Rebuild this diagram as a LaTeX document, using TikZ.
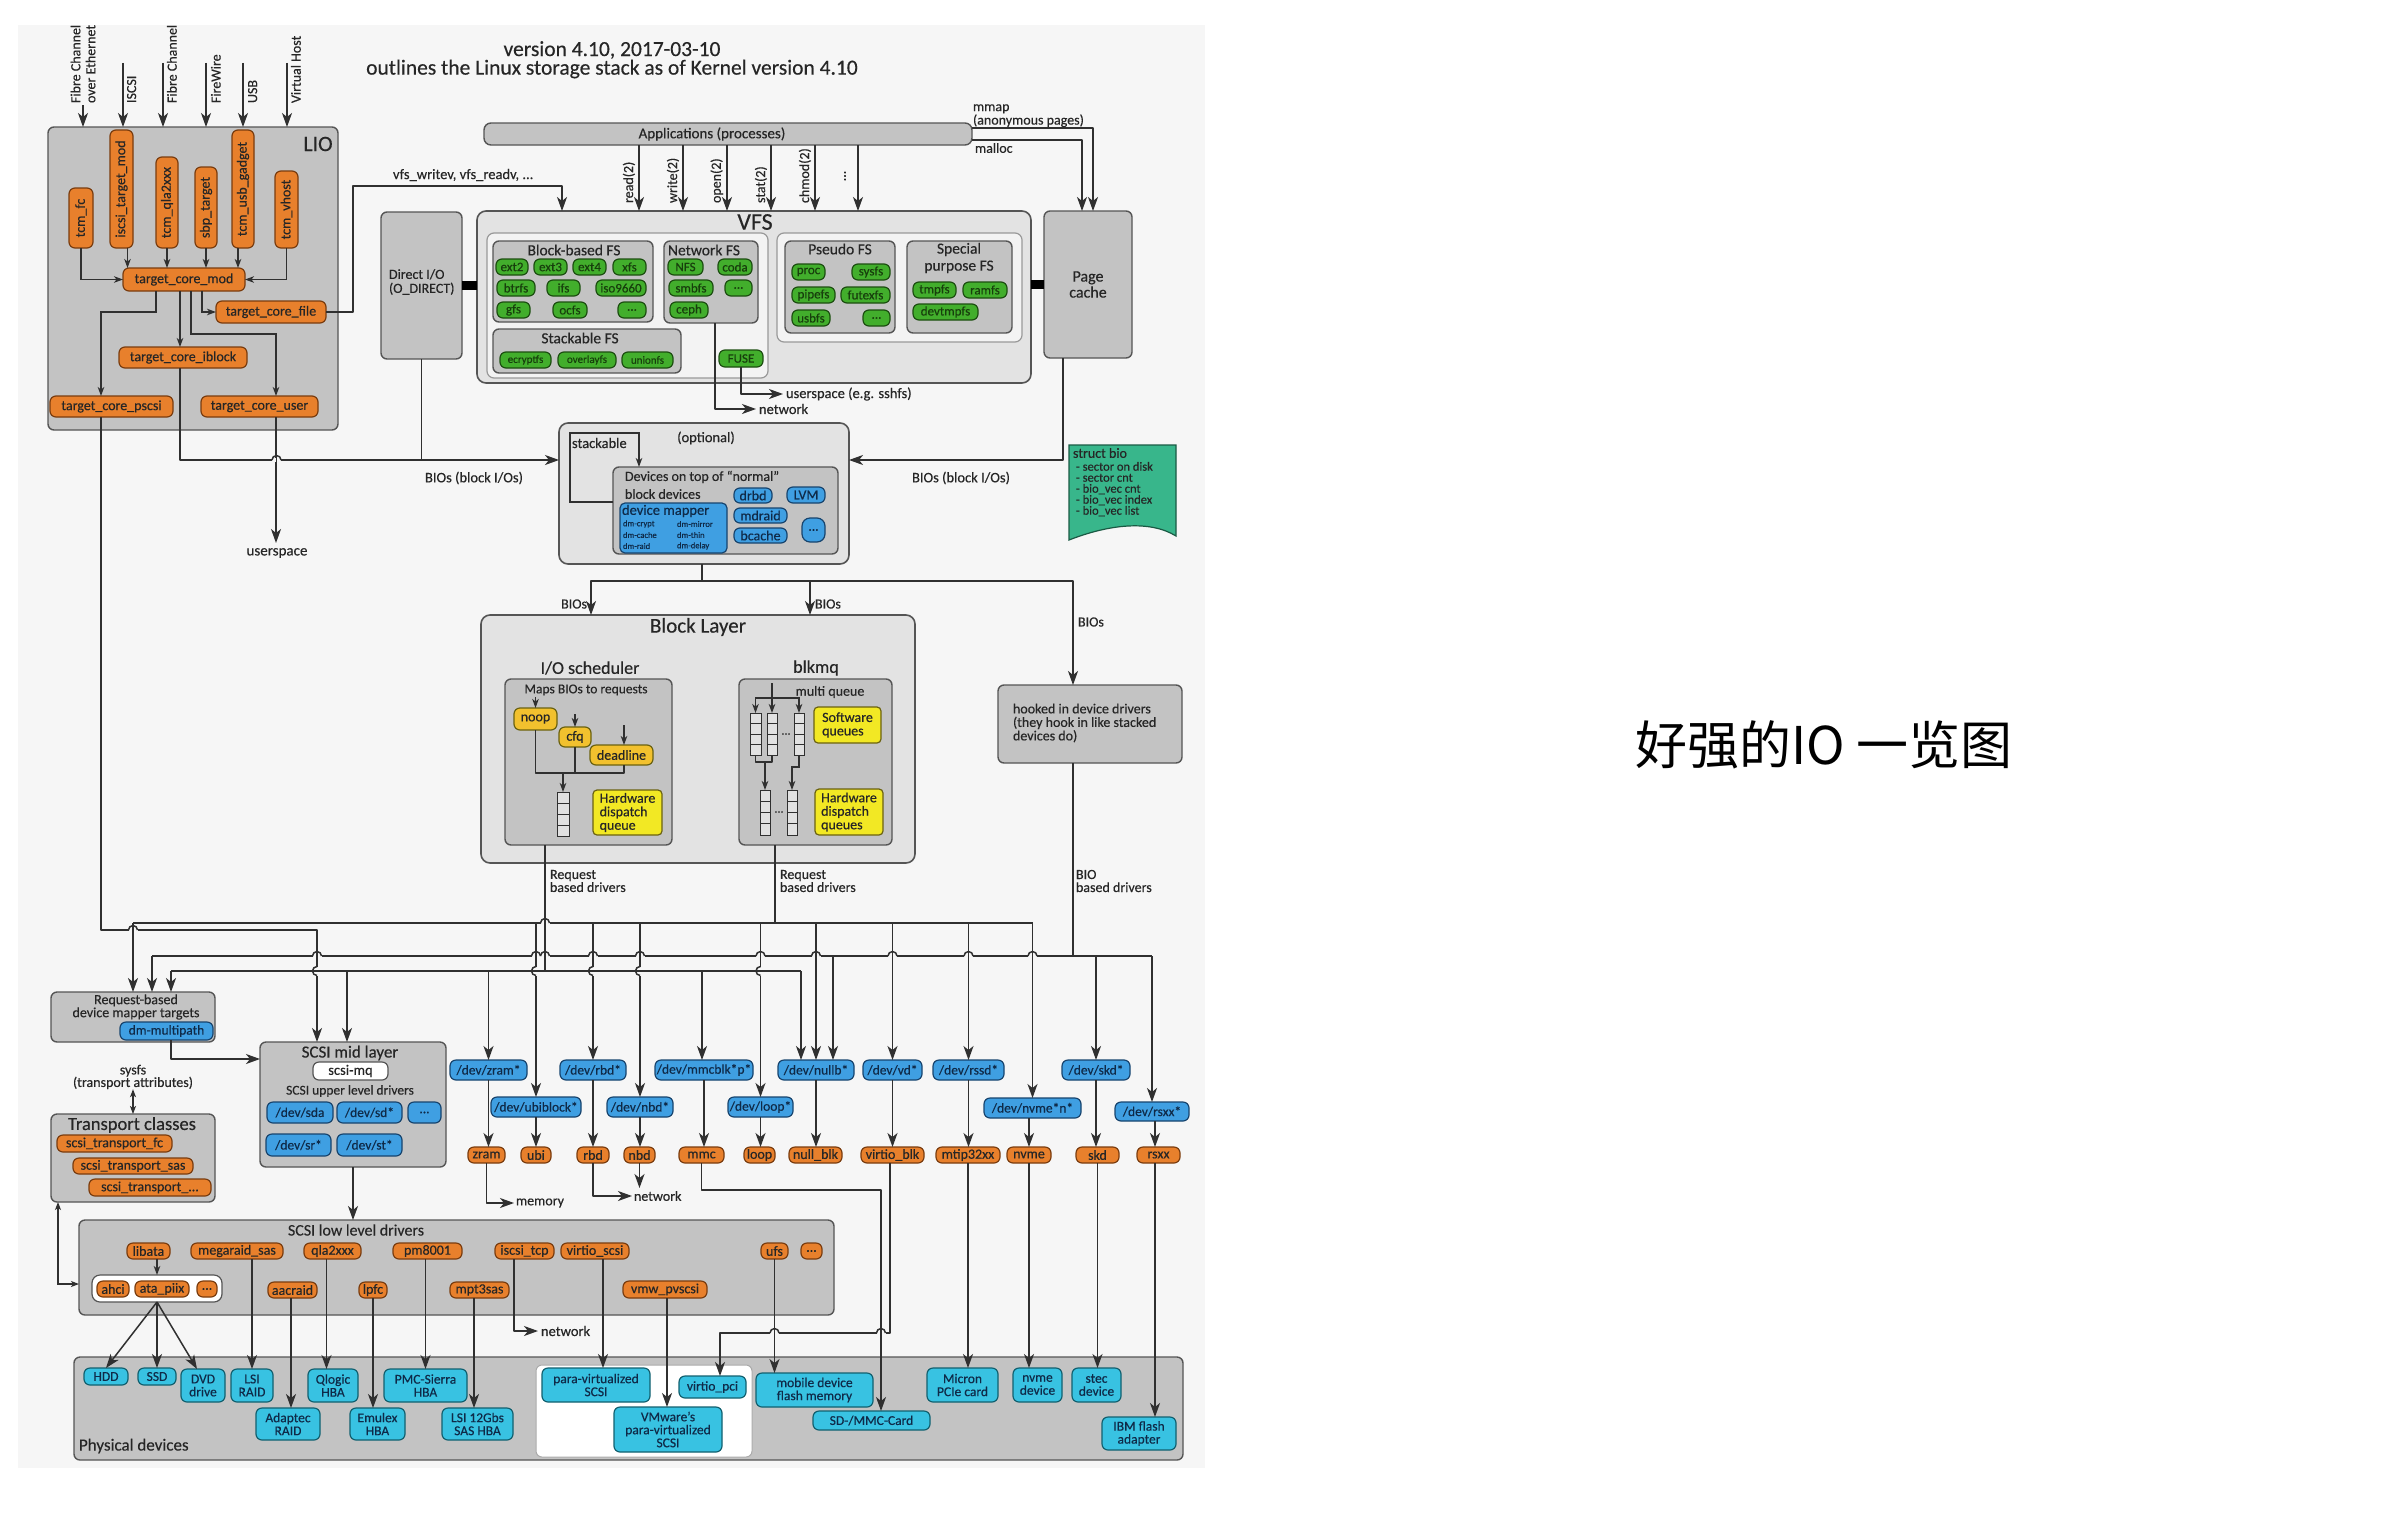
\documentclass[tikz,border=0pt]{standalone}
\usepackage{fontspec}
\setmainfont{Carlito}[FakeBold=0.35]
\newfontfamily\cjkfont{Noto Sans CJK SC}
\usetikzlibrary{arrows.meta,calc}

\definecolor{pagebg}{HTML}{F6F6F6}
\definecolor{lgray}{HTML}{E3E3E3}
\definecolor{mgray}{HTML}{C3C3C3}
\definecolor{wpanel}{HTML}{F3F3F3}
\definecolor{bord}{HTML}{555555}
\definecolor{lnc}{HTML}{303030}
\definecolor{txt}{HTML}{262626}
\definecolor{orangef}{HTML}{E8802C}
\definecolor{oranged}{HTML}{7A3C0E}
\definecolor{greenf}{HTML}{42AE2C}
\definecolor{greend}{HTML}{1C4E10}
\definecolor{greent}{HTML}{173F0C}
\definecolor{bluef}{HTML}{3F9FE2}
\definecolor{blued}{HTML}{17446E}
\definecolor{bluet}{HTML}{0F2A48}
\definecolor{cyanf}{HTML}{38C2E2}
\definecolor{cyand}{HTML}{11606F}
\definecolor{yelf}{HTML}{F2E824}
\definecolor{yeld}{HTML}{6B6210}
\definecolor{ambf}{HTML}{F2C12E}
\definecolor{biof}{HTML}{38B68B}
\definecolor{biod}{HTML}{1A5A44}

\newcommand\fz[1]{\fontsize{#1}{#1}\selectfont}
\newcommand\fzz[2]{\fontsize{#1}{#2}\selectfont}
% box given by two corners (pixel grid, y downwards)
\newcommand\bx[7]{\node[#1, minimum width={#5-#3}, minimum height={#6-#4}] (#2) at ({(#3+#5)/2},{(#4+#6)/2}) {#7};}
% queue drawn as a stack of four cells
\newcommand\qstack[5]{%
  \bx{qbox}{#1}{#2}{#3}{#4}{#5}{}
  \foreach \k in {1,2,3}{\draw[qline] ($(#1.north west)!\k/4!(#1.south west)$) -- ($(#1.north east)!\k/4!(#1.south east)$);}}
% bridge of a horizontal line over a vertical one
\newcommand\hop[2]{%
  \fill[pagebg] ({#1-4.5},{#2-2}) rectangle ({#1+4.5},{#2+2});
  \draw[ln] (#1,{#2-2.5}) -- (#1,{#2+2.5});
  \draw[ln, line cap=butt] ({#1-4.5},#2) arc[start angle=180, end angle=360, radius=4.5];}
% bridge of a vertical line around a horizontal one
\newcommand\vhop[2]{%
  \fill[pagebg] ({#1-2},{#2-4.5}) rectangle ({#1+2},{#2+4.5});
  \draw[ln] ({#1-2.5},#2) -- ({#1+2.5},#2);
  \draw[ln, line cap=butt] (#1,{#2-4.5}) arc[start angle=270, end angle=90, radius=4.5];}

\tikzset{
  every node/.style={inner sep=0pt, outer sep=0pt, text=txt},
  ln/.style={draw=lnc, line width=1.5pt, line join=round},
  arr/.style={ln, -{Stealth[length=14pt,width=10pt,inset=4pt]}},
  sarr/.style={draw=lnc, line width=1.2pt, -{Stealth[length=9pt,width=6.5pt,inset=2.5pt]}},
  tarr/.style={draw=lnc, line width=1.1pt, {Stealth[length=8pt,width=6pt,inset=2pt]}-{Stealth[length=8pt,width=6pt,inset=2pt]}},
  bar/.style={draw=black, line width=9pt},
  panel/.style={draw=bord, line width=1.6pt, fill=lgray, rounded corners=9pt},
  gbox/.style={draw=bord, line width=1.4pt, fill=mgray, rounded corners=6pt, align=center},
  wbox/.style={draw=bord!60, line width=1.2pt, fill=wpanel, rounded corners=7pt},
  pill/.style={line width=1.2pt, rounded corners=6pt, align=center, font=\fz{13.5}},
  opill/.style={pill, draw=oranged, fill=orangef, text=black!85, font=\fz{14}},
  gpill/.style={pill, draw=greend, fill=greenf, text=greent, font=\fz{13}},
  bpill/.style={pill, draw=blued, fill=bluef, text=bluet},
  cpill/.style={pill, draw=cyand, fill=cyanf, text=bluet, font=\fzz{13.5}{13}},
  ypill/.style={pill, draw=yeld, fill=yelf, rounded corners=4pt, align=left, font=\fzz{14}{13.5}},
  apill/.style={pill, draw=yeld, fill=ambf, font=\fz{14}},
  qbox/.style={draw=lnc, line width=1pt, fill=mgray!50},
  qline/.style={draw=lnc, line width=1pt},
  rot/.style={rotate=90, font=\fz{14}},
}

\begin{document}
\begin{tikzpicture}[x=1pt,y=-1pt]
\useasboundingbox (0,0) rectangle (2400,1528);
\fill[white] (0,0) rectangle (2400,1528);
\fill[pagebg] (18,25) rectangle (1205,1468);

\begin{scope}
\clip (18,25) rectangle (1205,1468);

% ---------------- heading
\node[font=\fz{21.5}] (ttl1) at (612,50) {version 4.10, 2017-03-10};
\node[font=\fz{21.5}] (ttl2) at (612,69) {outlines the Linux storage stack as of Kernel version 4.10};

% ---------------- LIO target
\bx{gbox}{lio}{48}{127}{338}{430}{}
\node[font=\fz{22}] (liot) at (318,144) {LIO};

\bx{opill}{tcmfc}{69}{188}{93}{248}{}
\bx{opill}{iscsitm}{110}{130}{133}{248}{}
\bx{opill}{tcmqla}{156}{157}{178}{248}{}
\bx{opill}{sbpt}{195}{167}{217}{248}{}
\bx{opill}{usbg}{232}{130}{254}{248}{}
\bx{opill}{vhost}{275}{171}{298}{248}{}
\node[rot] (tcmfcT) at (tcmfc.center) {tcm\_fc};
\node[rot] (iscsitmT) at (iscsitm.center) {iscsi\_target\_mod};
\node[rot] (tcmqlaT) at (tcmqla.center) {tcm\_qla2xxx};
\node[rot] (sbptT) at (sbpt.center) {sbp\_target};
\node[rot] (usbgT) at (usbg.center) {tcm\_usb\_gadget};
\node[rot] (vhostT) at (vhost.center) {tcm\_vhost};

\bx{opill}{tcm}{123}{268}{245}{291}{target\_core\_mod}
\bx{opill}{tcf}{216}{301}{326}{323}{target\_core\_file}
\bx{opill}{tci}{119}{347}{247}{368}{target\_core\_iblock}
\bx{opill}{tcp}{50}{396}{173}{417}{target\_core\_pscsi}
\bx{opill}{tcu}{201}{396}{318}{417}{target\_core\_user}

% fabric inputs
\coordinate (in1) at (83,105);
\coordinate (in2) at (123,63);
\coordinate (in3) at (163,63);
\coordinate (in4) at (206,63);
\coordinate (in5) at (243,63);
\coordinate (in6) at (287,63);
\foreach \c in {in1,in2,in3,in4,in5,in6}{\draw[arr] (\c) -- (\c |- lio.north);}
\node[rotate=90, anchor=west, align=left, font=\fzz{14}{15}] (lab1) at (83,103) {Fibre Channel\\over Ethernet};
\node[rot, anchor=north west] (lab2) at (127,103) {ISCSI};
\node[rot, anchor=north west] (lab3) at (167,103) {Fibre Channel};
\node[rot, anchor=north west] (lab4) at (211,103) {FireWire};
\node[rot, anchor=north west] (lab5) at (248,103) {USB};
\node[rot, anchor=north west] (lab6) at (291,103) {Virtual Host};

\draw[sarr] (tcmfc.south) |- (tcm.west);
\draw[sarr] ($(iscsitm.south)+(6,0)$) -- ($(iscsitm.south |- tcm.north)+(6,0)$);
\draw[sarr] (tcmqla.south) -- (tcmqla.south |- tcm.north);
\draw[sarr] (sbpt.south) -- (sbpt.south |- tcm.north);
\draw[sarr] ($(usbg.south)+(-5,0)$) -- ($(usbg.south |- tcm.north)+(-5,0)$);
\draw[sarr] (vhost.south) |- (tcm.east);
\draw[sarr] ($(tcm.south)+(-28,0)$) |- ($(tcp.north |- tcf.west)+(-10.5,0)$) -- ($(tcp.north)+(-10.5,0)$);
\draw[sarr] ($(tci.north |- tcm.south)+(-3,0)$) -- ($(tci.north)+(-3,0)$);
\draw[sarr] ($(tcm.south)+(7,0)$) -- ++(0,43) -| ($(tcu.north)+(16.5,0)$);
\draw[sarr] ($(tcm.south)+(18,0)$) |- (tcf.west);

% ---------------- applications, VFS, page cache
\bx{gbox, rounded corners=7pt}{app}{484}{123}{972}{145}{}
\node[font=\fz{15}] (appT) at (712,134) {Applications (processes)};

\bx{gbox, font=\fzz{16}{16}}{pc}{1044}{211}{1132}{358}{Page\\cache}
\bx{gbox}{dio}{381}{212}{462}{359}{}
\node[anchor=west, align=left, font=\fzz{14}{14}] (dioT) at (389,282) {Direct I/O\\(O\_DIRECT)};

\bx{panel}{vfs}{477}{211}{1031}{383}{}
\node[font=\fz{24}] (vfsT) at (755,222) {VFS};
\bx{wbox}{vfsl}{487}{233}{768}{378}{}
\bx{wbox}{vfsr}{777}{233}{1022}{342}{}

\bx{gbox}{bbfs}{493}{241}{653}{322}{}
\node[font=\fz{15.5}] (bbfsT) at (574,250) {Block-based FS};
\bx{gpill}{fext2}{496}{259}{528}{275}{ext2}
\bx{gpill}{fext3}{534}{259}{567}{275}{ext3}
\bx{gpill}{fext4}{573}{259}{606}{275}{ext4}
\bx{gpill}{fxfs}{613}{259}{646}{275}{xfs}
\bx{gpill}{fbtrfs}{497}{280}{535}{296}{btrfs}
\bx{gpill}{fifs}{547}{280}{580}{296}{ifs}
\bx{gpill}{fiso}{596}{280}{646}{296}{iso9660}
\bx{gpill}{fgfs}{497}{302}{530}{318}{gfs}
\bx{gpill}{focfs}{553}{302}{587}{318}{ocfs}
\bx{gpill}{fbdots}{618}{302}{646}{318}{...}

\bx{gbox}{netfs}{664}{241}{758}{323}{}
\node[anchor=west, font=\fz{15.5}] (netfsT) at (668,250) {Network FS};
\bx{gpill}{fnfs}{668}{259}{703}{275}{NFS}
\bx{gpill}{fcoda}{718}{259}{752}{275}{coda}
\bx{gpill}{fsmb}{669}{280}{713}{296}{smbfs}
\bx{gpill}{fndots}{725}{280}{752}{296}{...}
\bx{gpill}{fceph}{670}{302}{708}{318}{ceph}

\bx{gbox}{stkfs}{493}{329}{681}{373}{}
\node[font=\fz{15.5}] (stkfsT) at (580,338) {Stackable FS};
\bx{gpill, font=\fz{11}}{fecr}{500}{352}{551}{368}{ecryptfs}
\bx{gpill, font=\fz{11}}{fovl}{558}{352}{616}{368}{overlayfs}
\bx{gpill, font=\fz{11}}{funi}{622}{352}{673}{368}{unionfs}
\bx{gpill}{ffuse}{719}{350}{763}{367}{FUSE}

\bx{gbox}{psfs}{785}{241}{895}{333}{}
\node[font=\fz{15.5}] (psfsT) at (840,249) {Pseudo FS};
\bx{gpill}{fproc}{792}{264}{825}{280}{proc}
\bx{gpill}{fsys}{852}{264}{890}{280}{sysfs}
\bx{gpill}{fpipe}{792}{287}{835}{303}{pipefs}
\bx{gpill}{ffutex}{841}{287}{890}{303}{futexfs}
\bx{gpill}{fusb}{792}{310}{830}{326}{usbfs}
\bx{gpill}{fpdots}{863}{310}{890}{326}{...}

\bx{gbox}{spfs}{907}{241}{1012}{333}{}
\node[font=\fzz{15.5}{17}, align=center] (spfsT) at (959,258) {Special\\purpose FS};
\bx{gpill}{ftmp}{913}{282}{956}{298}{tmpfs}
\bx{gpill}{fram}{963}{282}{1007}{298}{ramfs}
\bx{gpill}{fdevt}{913}{304}{978}{320}{devtmpfs}

\draw[bar] (dio.east) -- (dio.east -| vfs.west);
\draw[bar] (pc.west) -- (pc.west -| vfs.east);

% system calls
\draw[arr] ($(app.south west)+(155,0)$) -- ++(0,66);
\draw[arr] ($(app.south west)+(199,0)$) -- ++(0,66);
\draw[arr] ($(app.south west)+(243,0)$) -- ++(0,66);
\draw[arr] ($(app.south west)+(287,0)$) -- ++(0,66);
\draw[arr] ($(app.south west)+(331,0)$) -- ++(0,66);
\draw[arr] ($(app.south west)+(374,0)$) -- ++(0,66);
\node[rot, anchor=south west] (sc1) at (635,203) {read(2)};
\node[rot, anchor=south west] (sc2) at (679,203) {write(2)};
\node[rot, anchor=south west] (sc3) at (723,203) {open(2)};
\node[rot, anchor=south west] (sc4) at (767,203) {stat(2)};
\node[rot, anchor=south west] (sc5) at (811,203) {chmod(2)};
\node[rot] (sc6) at (845,176) {...};

% mmap / malloc
\draw[arr] ($(app.east)+(0,-6)$) -| ($(pc.north)+(5,0)$);
\draw[arr] ($(app.east)+(0,6)$) -| ($(pc.north)+(-6,0)$);
\node[anchor=south west, align=left, font=\fzz{14}{11}] (mmapT) at (973,127) {mmap\\(anonymous pages)};
\node[anchor=west, font=\fz{14}] (mallocT) at (975,148) {malloc};

% vfs_writev from target_core_file
\draw[arr] (tcf.east) -- ++(27,0) |- ($(vfs.north)+(-192,-25)$) -- ($(vfs.north)+(-192,0)$);
\node[anchor=west, font=\fz{14.5}] (vfswT) at (393,175) {vfs\_writev, vfs\_readv, ...};

% network fs / fuse outputs
\node[anchor=west, font=\fz{14.5}] (netT1) at (759,409) {network};
\node[anchor=west, font=\fz{14.5}] (uspT1) at (786,394) {userspace (e.g. sshfs)};
\draw[arr] ($(netfs.south)+(4,0)$) |- ($(netT1.west)+(-3,0)$);
\draw[arr] (ffuse.south) |- ($(uspT1.west)+(-3,0)$);

% ---------------- stacked block devices
\bx{panel}{opt}{559}{423}{849}{564}{}
\node[font=\fz{14.5}] (optT) at (706,438) {(optional)};
\bx{gbox}{devs}{613}{467}{838}{554}{}
\node[anchor=west, font=\fz{14.5}] (stkT) at (572,443) {stackable};
\draw[sarr] ($(devs.west)+(0,-8.5)$) -| ($(devs.north west)+(-43,-34)$) -| ($(devs.north west)+(26,0)$);
\node[anchor=west, font=\fz{14}] (devsT1) at (625,477) {Devices on top of ``normal''};
\node[anchor=west, font=\fz{14}] (devsT2) at (625,494) {block devices};
\bx{bpill, rounded corners=5pt}{dm}{620}{503}{727}{553}{}
\node[anchor=west, font=\fz{14.5}, text=bluet] (dmT) at (622,511) {device mapper};
\node[anchor=west, font=\fz{8.5}, text=bluet] (dm1) at (623,524) {dm-crypt};
\node[anchor=west, font=\fz{8.5}, text=bluet] (dm2) at (677,524) {dm-mirror};
\node[anchor=west, font=\fz{8.5}, text=bluet] (dm3) at (623,535) {dm-cache};
\node[anchor=west, font=\fz{8.5}, text=bluet] (dm4) at (677,535) {dm-thin};
\node[anchor=west, font=\fz{8.5}, text=bluet] (dm5) at (623,546) {dm-raid};
\node[anchor=west, font=\fz{8.5}, text=bluet] (dm6) at (677,546) {dm-delay};
\bx{bpill, font=\fz{14}}{drbd}{734}{488}{772}{503}{drbd}
\bx{bpill, font=\fz{14}}{lvm}{787}{487}{825}{503}{LVM}
\bx{bpill, font=\fz{14}}{mdraid}{734}{508}{787}{523}{mdraid}
\bx{bpill, font=\fz{14}}{bcache}{734}{528}{787}{543}{bcache}
\bx{bpill, rounded corners=8pt}{sdots2}{802}{518}{825}{542}{...}

\coordinate (bioL) at ($(opt.west)+(0,-33.5)$);
\coordinate (bioR) at ($(opt.east)+(0,-33.5)$);
\draw[arr] ($(tci.south)+(-3,0)$) |- (bioL);
\draw[ln] (dio.south) -- (dio.south |- bioL);
\draw[arr] ($(pc.south)+(-25,0)$) |- (bioR);
\node[font=\fz{14.5}] (bioLT) at (474,478) {BIOs (block I/Os)};
\node[font=\fz{14.5}] (bioRT) at (961,478) {BIOs (block I/Os)};

\draw[arr] ($(tcu.south)+(16.5,0)$) -- ++(0,126);
\node[font=\fz{15}] (uspT2) at (277,553) {userspace};
\hop{276.5}{460}

% struct bio
\path[draw=biod, fill=biof, line width=1.2pt] (1069,445) -- (1176,445) -- (1176,536) .. controls (1150,520) and (1110,524) .. (1069,540) -- cycle;
\node[anchor=west, font=\fz{14}, text=black!85] (bioS) at (1073,453) {struct bio};
\node[anchor=north west, align=left, font=\fzz{12.5}{11}, text=black!85] (bioList) at (1076,462) {- sector on disk\\- sector cnt\\- bio\_vec cnt\\- bio\_vec index\\- bio\_vec list};

% ---------------- block layer
\bx{panel}{blk}{481}{615}{915}{863}{}
\node[font=\fz{21}] (blkT) at (698,627) {Block Layer};
\node[font=\fz{18}] (ioschT) at (590,668) {I/O scheduler};
\bx{gbox}{iosch}{505}{679}{672}{845}{}
\node[font=\fz{13.5}] (mapsT) at (586,690) {Maps BIOs to requests};
\bx{apill}{noop}{514}{708}{557}{730}{noop}
\bx{apill}{cfq}{559}{727}{591}{747}{cfq}
\bx{apill}{dl}{590}{745}{653}{765}{deadline}
\draw[sarr] ($(noop.north)+(0,-11)$) -- (noop.north);
\draw[sarr] ($(cfq.north)+(0,-13)$) -- (cfq.north);
\draw[sarr] ($(dl.north)+(2.5,-20)$) -- ($(dl.north)+(2.5,0)$);
\qstack{q1}{557}{792}{569}{836}
\draw[ln, line width=1.2pt] (noop.south) -- ++(0,43) -- ($(dl.south)+(2.5,8)$) -- ($(dl.south)+(2.5,0)$);
\draw[ln, line width=1.2pt] (cfq.south) -- ++(0,26);
\draw[sarr] ($(q1.north)+(0,-19)$) -- (q1.north);
\bx{ypill}{hdq}{593}{790}{662}{835}{Hardware\\dispatch\\queue}

\node[font=\fz{18}] (blkmqT) at (816,668) {blkmq};
\bx{gbox}{blkmq}{739}{679}{892}{845}{}
\node[font=\fz{14}] (mqT) at (830,692) {multi queue};
\qstack{sw1}{750}{713}{761}{755}
\qstack{sw2}{767}{713}{777}{755}
\qstack{sw3}{794}{713}{804}{755}
\qstack{hw1}{760}{790}{770}{835}
\qstack{hw2}{787}{790}{797}{835}
\draw[sarr] ($(sw2.north)+(0,-30)$) -- (sw2.north);
\draw[sarr] ($(sw2.north)+(0,-15)$) -| (sw1.north);
\draw[sarr] ($(sw2.north)+(0,-15)$) -| (sw3.north);
\node[font=\fz{12}] (swdots) at (786,734) {...};
\node[font=\fz{12}] (hwdots) at (779,812) {...};
\draw[ln, line width=1.2pt] (sw1.south) -- ++(0,7) -| (sw2.south);
\draw[sarr] ($(hw1.north)+(0,-28)$) -- (hw1.north);
\draw[sarr] (sw3.south) -- ++(0,12) -| (hw2.north);
\bx{ypill}{swq}{814}{707}{881}{743}{Software\\queues}
\bx{ypill}{hwq}{815}{789}{883}{835}{Hardware\\dispatch\\queues}

\bx{gbox}{hook}{998}{685}{1182}{763}{}
\node[anchor=west, align=left, font=\fzz{14}{13.5}] (hookT) at (1013,723) {hooked in device drivers\\(they hook in like stacked\\devices do)};

\coordinate (bsplit) at ($(opt.south)+(-2,17)$);
\draw[ln] ($(opt.south)+(-2,0)$) -- (bsplit);
\draw[arr] (bsplit) -| ($(blk.north)+(-107,0)$);
\draw[arr] (bsplit) -| ($(blk.north)+(112,0)$);
\draw[arr] (bsplit) -| ($(hook.north)+(-17,0)$);
\node[anchor=east, font=\fz{14}] (bios1) at (587,604) {BIOs};
\node[anchor=west, font=\fz{14}] (bios2) at (815,604) {BIOs};
\node[anchor=west, font=\fz{14}] (bios3) at (1078,622) {BIOs};

\node[anchor=west, align=left, font=\fzz{14}{13}] (rbd1T) at (550,881) {Request\\based drivers};
\node[anchor=west, align=left, font=\fzz{14}{13}] (rbd2T) at (780,881) {Request\\based drivers};
\node[anchor=west, align=left, font=\fzz{14}{13}] (bbdT) at (1076,881) {BIO\\based drivers};

% ---------------- request based dm, scsi mid layer, transport classes
\bx{gbox}{dmr}{51}{992}{215}{1042}{}
\node[font=\fzz{14}{13}, align=center] (dmrT) at (136,1007) {Request-based\\device mapper targets};
\bx{bpill}{dmmp}{120}{1022}{213}{1040}{dm-multipath}

\bx{gbox}{scsimid}{260}{1042}{446}{1167}{}
\node[font=\fz{17}] (smT) at (350,1053) {SCSI mid layer};
\bx{pill, draw=bord, fill=white, font=\fz{14.5}}{scsimq}{313}{1062}{388}{1080}{scsi-mq}
\node[font=\fz{13.5}] (sulT) at (350,1091) {SCSI upper level drivers};
\bx{bpill}{sda}{267}{1102}{333}{1123}{/dev/sda}
\bx{bpill}{sdx}{337}{1102}{402}{1123}{/dev/sd*}
\bx{bpill}{sdots}{408}{1102}{441}{1123}{...}
\bx{bpill}{srx}{266}{1134}{331}{1156}{/dev/sr*}
\bx{bpill}{stx}{337}{1134}{402}{1156}{/dev/st*}

\node[align=center, font=\fzz{14}{12.5}] (sysfsT) at (133,1077) {sysfs\\(transport attributes)};
\bx{gbox}{tc}{51}{1114}{215}{1202}{}
\node[font=\fz{18.5}] (tcT) at (132,1125) {Transport classes};
\bx{opill}{stfc}{57}{1135}{172}{1152}{scsi\_transport\_fc}
\bx{opill}{stsas}{73}{1158}{193}{1174}{scsi\_transport\_sas}
\bx{opill}{stx2}{89}{1179}{211}{1196}{scsi\_transport\_...}
\draw[tarr] (sysfsT.south) -- (sysfsT.south |- tc.north);

% ---------------- block device nodes and drivers
\bx{bpill}{zramdev}{450}{1060}{527}{1080}{/dev/zram*}
\bx{bpill}{ubidev}{491}{1097}{581}{1117}{/dev/ubiblock*}
\bx{bpill}{rbddev}{560}{1060}{626}{1080}{/dev/rbd*}
\bx{bpill}{nbddev}{607}{1097}{673}{1117}{/dev/nbd*}
\bx{bpill}{mmcdev}{655}{1060}{753}{1080}{/dev/mmcblk*p*}
\bx{bpill}{loopdev}{728}{1097}{793}{1117}{/dev/loop*}
\bx{bpill}{nullbdev}{778}{1060}{854}{1080}{/dev/nullb*}
\bx{bpill}{vddev}{863}{1060}{922}{1080}{/dev/vd*}
\bx{bpill}{rssddev}{933}{1060}{1004}{1080}{/dev/rssd*}
\bx{bpill}{nvmedev}{984}{1098}{1081}{1118}{/dev/nvme*n*}
\bx{bpill}{skddev}{1062}{1060}{1130}{1080}{/dev/skd*}
\bx{bpill}{rsxxdev}{1115}{1102}{1189}{1121}{/dev/rsxx*}

\bx{opill}{zramdrv}{468}{1147}{505}{1163}{zram}
\bx{opill}{ubidrv}{521}{1147}{551}{1163}{ubi}
\bx{opill}{rbddrv}{577}{1147}{609}{1163}{rbd}
\bx{opill}{nbddrv}{624}{1147}{655}{1163}{nbd}
\bx{opill}{mmcdrv}{679}{1147}{724}{1163}{mmc}
\bx{opill}{loopdrv}{744}{1147}{775}{1163}{loop}
\bx{opill}{nulldrv}{789}{1147}{842}{1163}{null\_blk}
\bx{opill}{virtdrv}{861}{1147}{924}{1163}{virtio\_blk}
\bx{opill}{mtipdrv}{936}{1147}{1000}{1163}{mtip32xx}
\bx{opill}{nvmedrv}{1007}{1147}{1051}{1163}{nvme}
\bx{opill}{skddrv}{1076}{1147}{1119}{1163}{skd}
\bx{opill}{rsxxdrv}{1137}{1147}{1180}{1163}{rsxx}

\foreach \d/\r in {zramdev/zramdrv,ubidev/ubidrv,rbddev/rbddrv,nbddev/nbddrv,mmcdev/mmcdrv,loopdev/loopdrv,nullbdev/nulldrv,vddev/virtdrv,rssddev/mtipdrv,skddev/skddrv}
  {\draw[arr] (\d.south) -- (\d.south |- \r.north);}
\draw[arr] (nvmedrv.north |- nvmedev.south) -- (nvmedrv.north);
\draw[arr] ($(rsxxdrv.north |- rsxxdev.south)+(-3.5,0)$) -- ($(rsxxdrv.north)+(-3.5,0)$);

\node[anchor=west, font=\fz{14}] (memT) at (516,1203) {memory};
\node[anchor=west, font=\fz{14}] (netT2) at (634,1196) {network};
\draw[arr] (zramdrv.south) |- ($(memT.west)+(-2,0)$);
\draw[arr] (rbddrv.south) |- ($(netT2.west)+(-2,0)$);
\draw[arr] (nbddrv.south) -- ++(0,25);

% ---------------- driver buses from the block layer
\coordinate (busA) at (0,923);
\coordinate (busB) at (0,956);
\coordinate (busC) at (0,971);
\draw[ln] ($(blkmq.south)+(-40.5,0)$) -- ($(blkmq.south |- busA)+(-40.5,0)$);
\draw[ln] ($(hook.south)+(-17,0)$) -- ($(hook.south |- busB)+(-17,0)$);
\draw[ln] ($(iosch.south)+(-43.5,0)$) -- ($(iosch.south |- busC)+(-43.5,0)$);
\draw[ln] (dmr.north |- busA) -- (nvmedev.north |- busA);
\draw[ln] ($(dmr.north |- busB)+(19,0)$) -- (rsxxdev.north |- busB);
\draw[ln] ($(dmr.north |- busC)+(38,0)$) -- ($(nullbdev.north |- busC)+(-15,0)$);

\draw[arr] (dmr.north |- busA) -- (dmr.north);
\draw[arr] ($(dmr.north |- busB)+(19,0)$) -- ($(dmr.north)+(19,0)$);
\draw[arr] ($(dmr.north |- busC)+(38,0)$) -- ($(dmr.north)+(38,0)$);
\draw[arr] ($(scsimid.north |- busC)+(-6,0)$) -- ($(scsimid.north)+(-6,0)$);
\foreach \d in {ubidev,rbddev,nbddev,loopdev,nullbdev,vddev,rssddev,nvmedev}
  {\draw[arr] (\d.north |- busA) -- (\d.north);}
\foreach \d in {skddev,rsxxdev}
  {\draw[arr] (\d.north |- busB) -- (\d.north);}
\draw[arr] (zramdev.north |- busC) -- (zramdev.north);
\draw[arr] ($(nullbdev.north |- busB)+(17,0)$) -- ($(nullbdev.north)+(17,0)$);
\draw[arr] ($(nullbdev.north |- busC)+(-15,0)$) -- ($(nullbdev.north)+(-15,0)$);
\draw[arr] ($(mmcdev.north |- busC)+(-2,0)$) -- ($(mmcdev.north)+(-2,0)$);

% LIO pscsi into the SCSI mid layer, dm-multipath into it too
\draw[arr] ($(tcp.south)+(-10.5,0)$) |- ($(scsimid.north)+(-36,-112)$) -- ($(scsimid.north)+(-36,0)$);
\draw[arr] ($(dmmp.south)+(4.5,0)$) |- ($(scsimid.west)+(0,-45.5)$);

% bridges where lines cross
\hop{133}{930}
\hop{545}{923}
\foreach \x in {317,536,545,593,640,760.5,816,892.5,968.5,1032.5}{\hop{\x}{956}}
\foreach \x in {317,536,593,640,760.5}{\vhop{\x}{971}}

% ---------------- SCSI low level drivers
\bx{gbox}{scsilow}{79}{1220}{834}{1315}{}
\node[font=\fz{16}] (slT) at (356,1230) {SCSI low level drivers};
\bx{opill}{libata}{127}{1243}{170}{1259}{libata}
\bx{opill}{megaraid}{191}{1243}{283}{1259}{megaraid\_sas}
\bx{opill}{qla}{304}{1243}{361}{1259}{qla2xxx}
\bx{opill}{pmdrv}{393}{1243}{462}{1259}{pm8001}
\bx{opill}{iscsitcp}{495}{1243}{554}{1259}{iscsi\_tcp}
\bx{opill}{vscsi}{561}{1243}{629}{1259}{virtio\_scsi}
\bx{opill}{ufs}{761}{1243}{788}{1259}{ufs}
\bx{opill}{lldots}{801}{1243}{822}{1259}{...}
\bx{pill, draw=bord, fill=white, rounded corners=8pt}{ahcigrp}{92}{1275}{222}{1302}{}
\bx{opill}{ahci}{97}{1281}{129}{1297}{ahci}
\bx{opill}{atapiix}{135}{1281}{189}{1297}{ata\_piix}
\bx{opill}{ahdots}{197}{1281}{217}{1297}{...}
\bx{opill}{aacraid}{268}{1282}{317}{1298}{aacraid}
\bx{opill}{lpfc}{359}{1282}{387}{1298}{lpfc}
\bx{opill}{mpt}{450}{1282}{509}{1298}{mpt3sas}
\bx{opill}{vmw}{623}{1281}{707}{1298}{vmw\_pvscsi}
\draw[sarr] ($(libata.south)+(8.5,0)$) -- ($(libata.south |- ahcigrp.north)+(8.5,0)$);
\draw[arr] (scsimid.south) -- (scsimid.south |- scsilow.north);
\draw[tarr] ($(tc.south west)+(7,0)$) |- ($(scsilow.west)+(0,16.5)$);
\node[anchor=west, font=\fz{14.5}] (netT3) at (541,1331) {network};
\draw[arr] ($(iscsitcp.south)+(-10.5,0)$) |- ($(netT3.west)+(-3,0)$);

% ---------------- physical devices
\bx{gbox}{phys}{74}{1357}{1183}{1460}{}
\node[anchor=west, font=\fz{17}] (physT) at (79,1446) {Physical devices};
\bx{gbox, fill=white, draw=bord!50, line width=1pt}{virt}{536}{1365}{752}{1457}{}
\bx{cpill}{hdd}{84}{1368}{128}{1385}{HDD}
\bx{cpill}{ssd}{138}{1368}{176}{1385}{SSD}
\bx{cpill}{dvd}{181}{1369}{225}{1402}{DVD\\drive}
\bx{cpill}{lsiraid}{231}{1369}{273}{1402}{LSI\\RAID}
\bx{cpill}{adaptec}{256}{1408}{320}{1440}{Adaptec\\RAID}
\bx{cpill}{qlogic}{308}{1369}{358}{1402}{Qlogic\\HBA}
\bx{cpill}{emulex}{350}{1408}{405}{1440}{Emulex\\HBA}
\bx{cpill}{pmc}{384}{1369}{467}{1402}{PMC-Sierra\\HBA}
\bx{cpill}{lsi12}{442}{1408}{513}{1440}{LSI 12Gbs\\SAS HBA}
\bx{cpill}{pvscsi}{542}{1368}{650}{1402}{para-virtualized\\SCSI}
\bx{cpill}{vmware}{614}{1407}{722}{1452}{VMware's\\para-virtualized\\SCSI}
\bx{cpill}{vpci}{679}{1376}{746}{1398}{virtio\_pci}
\bx{cpill}{mobile}{756}{1373}{873}{1407}{mobile device\\flash memory}
\bx{cpill}{sdmmc}{813}{1411}{930}{1430}{SD-/MMC-Card}
\bx{cpill}{micron}{927}{1368}{998}{1402}{Micron\\PCIe card}
\bx{cpill}{nvmed}{1013}{1368}{1062}{1402}{nvme\\device}
\bx{cpill}{stec}{1072}{1368}{1121}{1402}{stec\\device}
\bx{cpill}{ibm}{1102}{1417}{1176}{1450}{IBM flash\\adapter}

\draw[arr] (ahcigrp.south) -- (hdd.north);
\draw[arr] (ahcigrp.south) -- (ssd.north);
\draw[arr] (ahcigrp.south) -- ($(dvd.north)+(-6,0)$);
\draw[arr] (lsiraid.north |- megaraid.south) -- (lsiraid.north);
\draw[arr] ($(aacraid.south)+(-1.5,0)$) -- ($(aacraid.south |- adaptec.north)+(-1.5,0)$);
\draw[arr] ($(qla.south)+(-6,0)$) -- ($(qla.south |- qlogic.north)+(-6,0)$);
\draw[arr] (lpfc.south) -- (lpfc.south |- emulex.north);
\draw[arr] (pmc.north |- pmdrv.south) -- (pmc.north);
\draw[arr] ($(mpt.south)+(-5.5,0)$) -- ($(mpt.south |- lsi12.north)+(-5.5,0)$);
\draw[arr] ($(vscsi.south)+(8,0)$) -- ($(vscsi.south |- pvscsi.north)+(8,0)$);
\draw[arr] ($(vmw.south)+(2,0)$) -- ($(vmw.south |- vmware.north)+(2,0)$);
\draw[arr] (ufs.south) -- (ufs.south |- mobile.north);
\draw[arr] (mmcdrv.south) |- ($(sdmmc.north)+(9.5,-221)$) -- ($(sdmmc.north)+(9.5,0)$);
\draw[arr] ($(virtdrv.south)+(-2.5,0)$) |- ($(vpci.north)+(7.5,-43)$) -- ($(vpci.north)+(7.5,0)$);
\hop{774.5}{1333}
\hop{881}{1333}
\draw[arr] (mtipdrv.south) -- (mtipdrv.south |- micron.north);
\draw[arr] (nvmedrv.south) -- (nvmedrv.south |- nvmed.north);
\draw[arr] (skddrv.south) -- (skddrv.south |- stec.north);
\draw[arr] ($(rsxxdrv.south)+(-3.5,0)$) -- ($(rsxxdrv.south |- ibm.north)+(-3.5,0)$);
\end{scope}

% ---------------- caption
\node[font=\cjkfont\fz{52}, text=black] (caption) at (1824,745) {好强的IO 一览图};
\end{tikzpicture}
\end{document}
